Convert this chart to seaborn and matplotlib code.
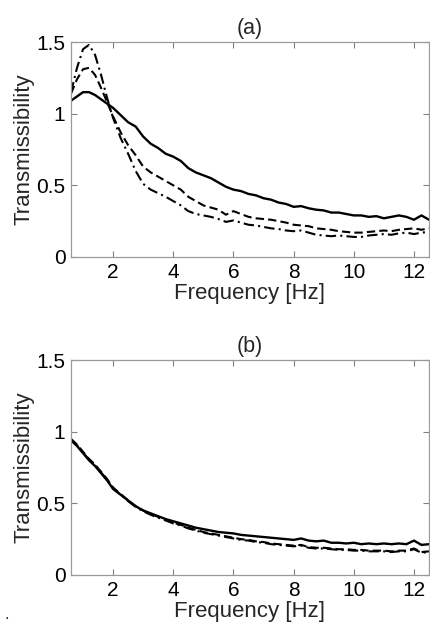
import numpy as np
import pandas as pd
import matplotlib
matplotlib.use("Agg")
import matplotlib.pyplot as plt
import seaborn as sns

freq = [0.6, 0.8, 1.0, 1.2, 1.4, 1.6, 1.8, 2.0, 2.25, 2.5, 2.75, 3.0, 3.25, 3.5, 3.75,
        4.0, 4.25, 4.5, 4.75, 5.0, 5.25, 5.5, 5.75, 6.0, 6.25, 6.5, 6.75, 7.0, 7.25, 7.5,
        7.75, 8.0, 8.25, 8.5, 8.75, 9.0, 9.25, 9.5, 9.75, 10.0, 10.25, 10.5, 10.75, 11.0,
        11.25, 11.5, 11.75, 12.0, 12.25, 12.5]

a_solid = [1.09, 1.12, 1.15, 1.15, 1.13, 1.10, 1.07, 1.04, 0.99, 0.94, 0.91, 0.84, 0.79, 0.76, 0.72,
           0.70, 0.67, 0.62, 0.59, 0.57, 0.55, 0.52, 0.49, 0.47, 0.46, 0.44, 0.43, 0.41, 0.40, 0.38,
           0.37, 0.35, 0.355, 0.34, 0.33, 0.325, 0.31, 0.31, 0.30, 0.29, 0.29, 0.28, 0.285, 0.27,
           0.28, 0.29, 0.28, 0.26, 0.29, 0.26]
a_dash = [1.14, 1.24, 1.31, 1.32, 1.27, 1.18, 1.08, 0.98, 0.87, 0.78, 0.71, 0.63, 0.59, 0.56, 0.53,
          0.50, 0.47, 0.42, 0.39, 0.36, 0.345, 0.33, 0.295, 0.32, 0.30, 0.28, 0.27, 0.265, 0.26, 0.25,
          0.24, 0.225, 0.22, 0.215, 0.20, 0.195, 0.19, 0.18, 0.175, 0.17, 0.17, 0.175, 0.18, 0.185,
          0.18, 0.19, 0.195, 0.20, 0.19, 0.20]
a_dashdot = [1.15, 1.32, 1.45, 1.48, 1.41, 1.27, 1.11, 0.97, 0.83, 0.72, 0.60, 0.51, 0.47, 0.445, 0.42,
             0.39, 0.36, 0.32, 0.30, 0.29, 0.28, 0.265, 0.245, 0.255, 0.24, 0.225, 0.22, 0.21, 0.20, 0.195,
             0.185, 0.18, 0.185, 0.17, 0.155, 0.15, 0.145, 0.15, 0.145, 0.14, 0.14, 0.15, 0.155, 0.16,
             0.155, 0.165, 0.17, 0.16, 0.17, 0.175]

b_solid = [0.94, 0.90, 0.85, 0.80, 0.76, 0.71, 0.66, 0.60, 0.56, 0.52, 0.48, 0.45, 0.43, 0.41, 0.39,
           0.375, 0.36, 0.345, 0.33, 0.32, 0.31, 0.30, 0.295, 0.29, 0.28, 0.275, 0.27, 0.265, 0.26, 0.255,
           0.25, 0.245, 0.255, 0.24, 0.235, 0.24, 0.225, 0.225, 0.22, 0.225, 0.215, 0.22, 0.215, 0.22,
           0.215, 0.22, 0.215, 0.24, 0.21, 0.215]
b_dash = [0.95, 0.91, 0.86, 0.81, 0.77, 0.72, 0.67, 0.61, 0.565, 0.52, 0.48, 0.45, 0.425, 0.405, 0.385,
          0.365, 0.35, 0.33, 0.315, 0.30, 0.29, 0.28, 0.27, 0.26, 0.25, 0.245, 0.235, 0.23, 0.22, 0.215,
          0.21, 0.205, 0.21, 0.195, 0.19, 0.19, 0.185, 0.18, 0.18, 0.175, 0.175, 0.17, 0.17, 0.17,
          0.165, 0.17, 0.17, 0.185, 0.16, 0.165]
b_dashdot = [0.945, 0.905, 0.855, 0.805, 0.765, 0.715, 0.665, 0.605, 0.56, 0.515, 0.475, 0.445, 0.42, 0.40, 0.38,
             0.36, 0.345, 0.325, 0.31, 0.295, 0.285, 0.275, 0.265, 0.255, 0.245, 0.24, 0.23, 0.225, 0.215, 0.21,
             0.205, 0.20, 0.205, 0.19, 0.185, 0.185, 0.18, 0.175, 0.175, 0.17, 0.17, 0.165, 0.165, 0.165,
             0.16, 0.165, 0.165, 0.18, 0.155, 0.16]

titles = ["(a)", "(b)"]
xticks = [2, 4, 6, 8, 10, 12]
yticks = [0, 0.5, 1, 1.5]
ytick_labels = ["0", "0.5", "1", "1.5"]

sns.set_theme(style="white")
plt.rcParams['font.family'] = ['Liberation Sans', 'DejaVu Sans']

fig = plt.figure(figsize=(4.31, 6.23), dpi=100)
W, H = 431, 623
ax_a = fig.add_axes([71 / W, (H - 257) / H, (429 - 71) / W, 215 / H])
ax_b = fig.add_axes([71 / W, (H - 575) / H, (429 - 71) / W, 215 / H])

styles = [("-", None), ("--", (0, (4, 2))), ("-.", (0, (5, 2, 1, 2)))]

for ax, series, title in [(ax_a, [a_solid, a_dash, a_dashdot], titles[0]),
                          (ax_b, [b_solid, b_dash, b_dashdot], titles[1])]:
    for vals, (ls, dashes) in zip(series, styles):
        df = pd.DataFrame({"Frequency": freq, "T": vals})
        line_kw = dict(color="black", linewidth=1.7 if ls == "-" else 1.5)
        if dashes is not None:
            line_kw["linestyle"] = dashes
        sns.lineplot(data=df, x="Frequency", y="T", ax=ax, **line_kw)
    ax.set_xlim(0.6, 12.5)
    ax.set_ylim(0, 1.5)
    ax.set_xticks(xticks)
    ax.set_yticks(yticks)
    ax.set_yticklabels(ytick_labels)
    ax.tick_params(axis="both", which="both", direction="in", length=4, width=0.8,
                   colors="#808080", labelcolor="black", labelsize=15, pad=4,
                   top=True, right=True, bottom=True, left=True)
    for sp in ax.spines.values():
        sp.set_color("#9a9a9a")
        sp.set_linewidth(0.9)
    ax.set_xlabel("Frequency [Hz]", fontsize=16, labelpad=1)
    ax.set_ylabel("Transmissibility", fontsize=16, labelpad=1)
    ax.set_title(title, fontsize=15.5, pad=6)

fig.text(5 / W, 1 - 619 / H, ".", fontsize=12)

fig.savefig("out.png", dpi=100)
